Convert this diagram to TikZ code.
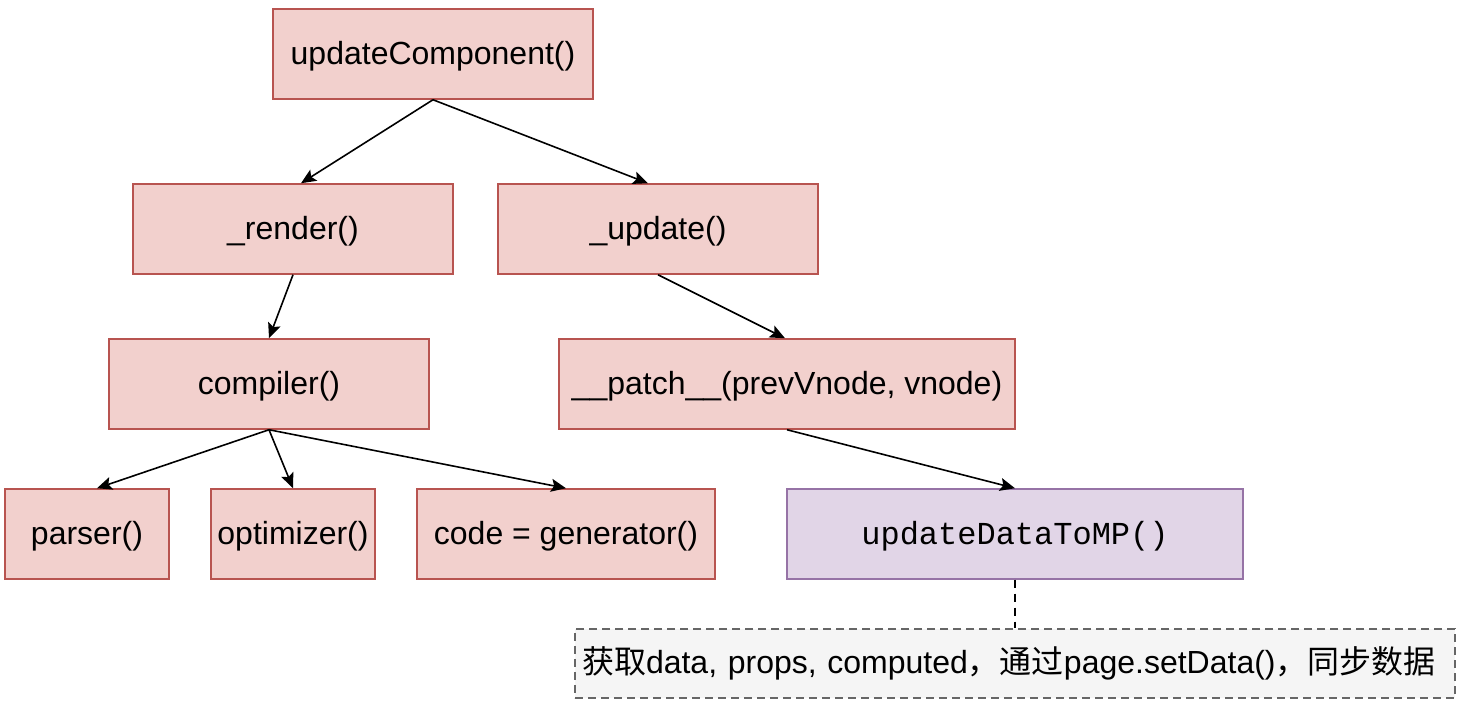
\documentclass[tikz,border=0pt]{standalone}
\usepackage{fontspec}
\setmainfont{Liberation Sans}
\newfontfamily\monof{Liberation Mono}
\newfontfamily\cjk{Noto Sans CJK SC}
\usetikzlibrary{arrows.meta}
\definecolor{rfill}{HTML}{F2D0CD}
\definecolor{rdraw}{HTML}{B85450}
\definecolor{pfill}{HTML}{E1D5E7}
\definecolor{pdraw}{HTML}{9673A6}
\definecolor{nfill}{HTML}{F5F5F5}
\definecolor{ndraw}{HTML}{666666}
\tikzset{
  pbox/.style={rectangle, draw=rdraw, fill=rfill, line width=0.75pt, minimum height=45pt, inner sep=0pt, text height=14pt, text depth=3.4pt, font=\fontsize{16pt}{19pt}\selectfont},
  mbox/.style={rectangle, draw=pdraw, fill=pfill, line width=0.75pt, minimum height=45pt, inner sep=0pt, text height=14pt, text depth=3.4pt, font=\monof\fontsize{16pt}{19pt}\selectfont},
  notebox/.style={rectangle, draw=ndraw, fill=nfill, line width=0.75pt, dash pattern=on 4pt off 2.5pt, minimum height=34.5pt, inner ysep=0pt, inner xsep=3.5pt, text width=433pt, align=left, text height=13pt, text depth=3.4pt, font=\fontsize{16pt}{19pt}\selectfont},
  conn/.style={line width=0.8pt, -{Stealth[length=7.5pt,width=6.5pt,inset=1.5pt]}},
  dconn/.style={line width=0.75pt, dash pattern=on 4pt off 3pt},
}
\begin{document}
\begin{tikzpicture}[x=0.5pt,y=-0.5pt]
\useasboundingbox[fill=white] (0,0) rectangle (1464,710);
\node[pbox, minimum width=160pt] (uc) at (433,54) {updateComponent()};
\node[pbox, minimum width=160pt] (render) at (293,229) {\_render()};
\node[pbox, minimum width=160pt] (update) at (658,229) {\_update()};
\node[pbox, minimum width=160pt] (compiler) at (269,384) {compiler()};
\node[pbox, minimum width=228pt] (patch) at (787,384) {\_\_patch\_\_(prevVnode, vnode)};
\node[pbox, minimum width=82pt] (parser) at (87,534) {parser()};
\node[pbox, minimum width=82pt] (optimizer) at (293,534) {optimizer()};
\node[pbox, minimum width=149pt] (generator) at (566,534) {code = generator()};
\node[mbox, minimum width=228pt] (mp) at (1015,534) {updateDataToMP()};
\node[notebox] (note) at (1015,663.5) {{\cjk 获取}data, props, computed{\cjk ，通过}page.setData(){\cjk ，同步数据}};
\draw[conn] (uc.south) -- ([xshift=4pt]render.north);
\draw[conn] (uc.south) -- ([xshift=-5pt]update.north);
\draw[conn] (render.south) -- (compiler.north);
\draw[conn] (update.south) -- ([xshift=-1pt]patch.north);
\draw[conn] (compiler.south) -- ([xshift=5pt]parser.north);
\draw[conn] (compiler.south) -- (optimizer.north);
\draw[conn] (compiler.south) -- (generator.north);
\draw[conn] (patch.south) -- (mp.north);
\draw[dconn] (mp.south) -- (note.north);
\end{tikzpicture}
\end{document}
